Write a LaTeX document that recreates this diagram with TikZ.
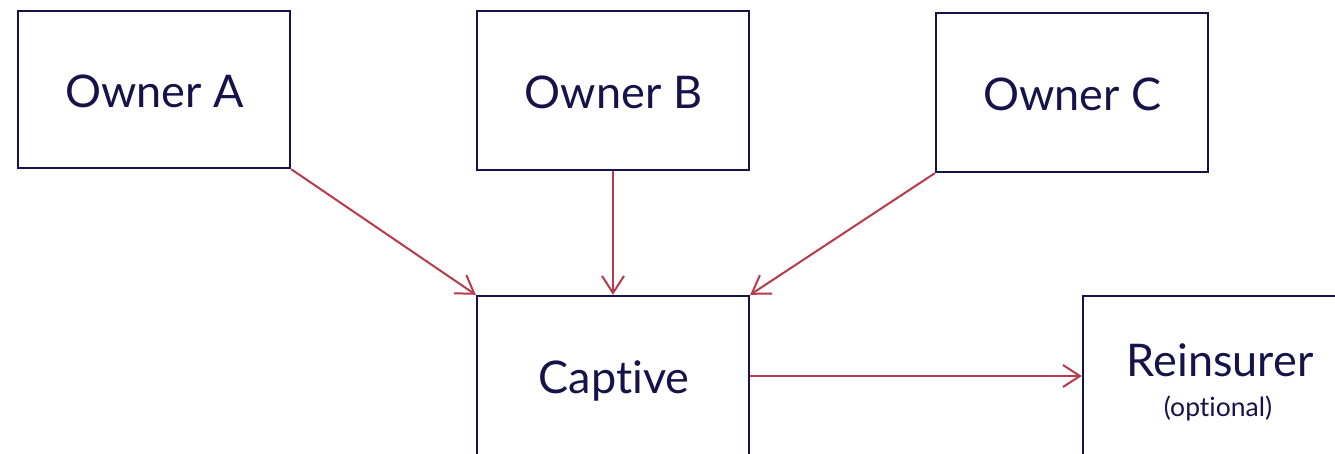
\documentclass[tikz,border=0pt]{standalone}
\usepackage{fontspec}
\setmainfont{Lato}[Ligatures={NoCommon}]
\usetikzlibrary{arrows.meta}
\definecolor{navy}{HTML}{16134A}
\definecolor{flow}{HTML}{B83A4B}
\tikzset{
  box/.style={draw=navy, line width=2.4pt, minimum width=272pt, inner sep=0pt},
  boxtext/.style={anchor=base, text=navy, font=\fontsize{45}{50}\selectfont, inner sep=0pt},
  smalltext/.style={anchor=base, text=navy, font=\fontsize{26.5}{30}\selectfont, inner sep=0pt},
  feed/.style={draw=flow, line width=2pt, -{Straight Barb[length=17pt, width=22pt, line width=2pt]}}
}
\begin{document}
\begin{tikzpicture}[x=1pt, y=-1pt]
  \useasboundingbox (0,0) rectangle (1335,454);
  \clip (0,0) rectangle (1335,454);
  \fill[white] (0,0) rectangle (1335,454);

  % owners along the top
  \node[box, minimum height=157pt] (ownA) at (154,89.5) {};
  \node[box, minimum height=159pt] (ownB) at (613,90.5) {};
  \node[box, minimum height=159pt] (ownC) at (1072,92.5) {};
  \node[boxtext] (tA) at (154.5,108) {Owner A};
  \node[boxtext] (tB) at (613.5,109) {Owner B};
  \node[boxtext] (tC) at (1072.5,111) {Owner C};

  % captive and reinsurer, running off the lower and right edges
  \node[box, minimum height=160pt] (cap) at (613,376) {};
  \node[box, minimum height=160pt] (re) at (1219,376) {};
  \node[boxtext] (tcap) at (614,393) {Captive};
  \node[boxtext] (tre) at (1220,376.5) {Reinsurer};
  \node[smalltext] (topt) at (1218,416.5) {(optional)};

  % flows
  \draw[feed] (ownA.south east) -- (cap.north west);
  \draw[feed] (ownB.south) -- (cap.north);
  \draw[feed] (ownC.south west) -- (cap.north east);
  \draw[feed] (cap.east) -- (re.west);
\end{tikzpicture}
\end{document}
